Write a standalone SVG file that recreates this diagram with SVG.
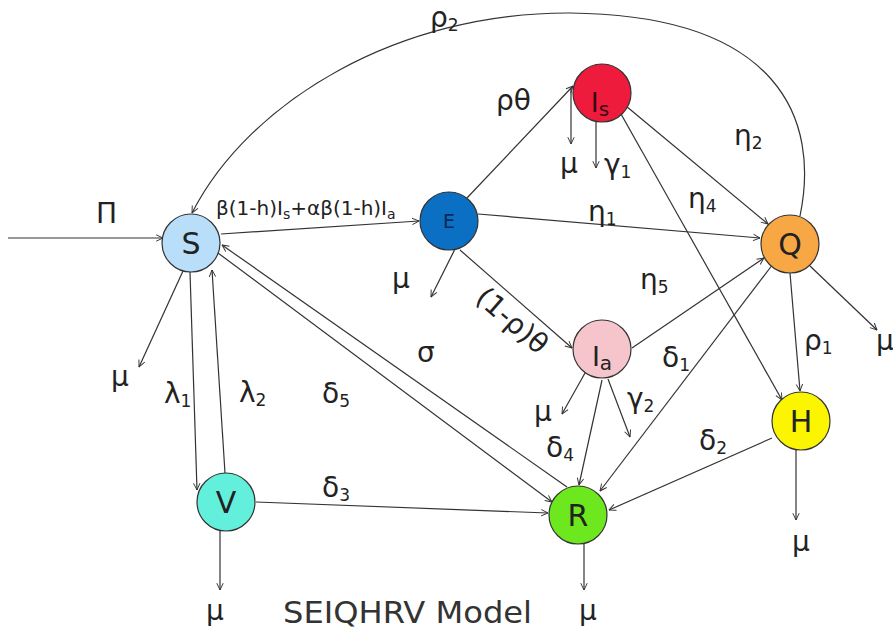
<svg xmlns="http://www.w3.org/2000/svg" width="893" height="634" viewBox="0 0 893 634">
<style>
.ln{fill:none;stroke:#333;stroke-width:1.2}
.arr{marker-end:url(#ah)}
.nd{stroke:#333;stroke-width:1.2}
.nl{font-family:"DejaVu Sans",sans-serif;font-size:30px;fill:#222;text-anchor:middle}
.lb{font-family:"DejaVu Sans",sans-serif;font-size:28px;fill:#222}
.sub{font-size:17px}
.t{font-family:"DejaVu Sans",sans-serif;font-size:30px;fill:#333}
</style>
<defs>
<marker id="ah" viewBox="0 0 10 10" refX="9.5" refY="5" markerWidth="8" markerHeight="8" markerUnits="userSpaceOnUse" orient="auto">
<path d="M1,1 L9.5,5 L1,9" fill="none" stroke="#333" stroke-width="1.2"/>
</marker>
</defs>
<rect width="893" height="634" fill="#fff"/>
<g id="connectors">
<line class="ln arr" x1="8" y1="238" x2="163" y2="238"/>
<line class="ln arr" x1="221" y1="234" x2="419" y2="221"/>
<path class="ln arr" d="M800,216 C820,120 780,15 570,13 C400,12 250,100 192,213"/>
<line class="ln arr" x1="466" y1="199" x2="573" y2="86"/>
<line class="ln arr" x1="571" y1="88" x2="571" y2="144"/>
<line class="ln arr" x1="596" y1="121" x2="596" y2="168"/>
<line class="ln arr" x1="626" y1="106" x2="768" y2="224"/>
<line class="ln arr" x1="621" y1="114" x2="782" y2="400"/>
<line class="ln arr" x1="478" y1="214" x2="760" y2="238"/>
<line class="ln arr" x1="455" y1="249" x2="431" y2="297"/>
<line class="ln arr" x1="460" y1="250" x2="572" y2="348"/>
<line class="ln arr" x1="632" y1="348" x2="764" y2="258"/>
<line class="ln arr" x1="585" y1="373" x2="562" y2="414"/>
<line class="ln arr" x1="608" y1="379" x2="630" y2="437"/>
<line class="ln arr" x1="602" y1="380" x2="579" y2="485"/>
<line class="ln arr" x1="773" y1="264" x2="600" y2="491"/>
<line class="ln arr" x1="790" y1="273" x2="800" y2="391"/>
<line class="ln arr" x1="810" y1="266" x2="877" y2="330"/>
<line class="ln arr" x1="772" y1="438" x2="609" y2="510"/>
<line class="ln arr" x1="796" y1="450" x2="796" y2="520"/>
<line class="ln arr" x1="183" y1="271" x2="139" y2="367"/>
<line class="ln arr" x1="190" y1="272" x2="197" y2="490"/>
<line class="ln arr" x1="225" y1="473" x2="212" y2="270"/>
<line class="ln arr" x1="567" y1="487" x2="222" y2="245"/>
<line class="ln arr" x1="218" y1="253" x2="552" y2="502"/>
<line class="ln arr" x1="256" y1="502" x2="548" y2="513"/>
<line class="ln arr" x1="220" y1="531" x2="220" y2="590"/>
<line class="ln arr" x1="584" y1="544" x2="584" y2="590"/>
</g>
<g id="labels">
<text class="lb" x="96" y="223">Π</text>
<text class="lb" x="216" y="215" style="font-size:20px">β(1-h)I<tspan class="sub" style="font-size:14px" dy="4">s</tspan><tspan dy="-4">+αβ(1-h)I</tspan><tspan class="sub" style="font-size:14px" dy="4">a</tspan></text>
<text class="lb" x="430" y="27">ρ<tspan class="sub" dy="4">2</tspan></text>
<text class="lb" x="496" y="110">ρθ</text>
<text class="lb" x="560" y="173">μ</text>
<text class="lb" x="604" y="174">γ<tspan class="sub" dy="4">1</tspan></text>
<text class="lb" x="734" y="145">η<tspan class="sub" dy="4">2</tspan></text>
<text class="lb" x="688" y="208">η<tspan class="sub" dy="4">4</tspan></text>
<text class="lb" x="588" y="221">η<tspan class="sub" dy="4">1</tspan></text>
<text class="lb" x="640" y="289">η<tspan class="sub" dy="4">5</tspan></text>
<text class="lb" x="392" y="288">μ</text>
<text class="lb" x="0" y="0" transform="translate(474,300) rotate(41)">(1-ρ)θ</text>
<text class="lb" x="417" y="362">σ</text>
<text class="lb" x="662" y="367">δ<tspan class="sub" dy="4">1</tspan></text>
<text class="lb" x="627" y="408">γ<tspan class="sub" dy="4">2</tspan></text>
<text class="lb" x="534" y="421">μ</text>
<text class="lb" x="546" y="457">δ<tspan class="sub" dy="4">4</tspan></text>
<text class="lb" x="699" y="450">δ<tspan class="sub" dy="4">2</tspan></text>
<text class="lb" x="804" y="350">ρ<tspan class="sub" dy="4">1</tspan></text>
<text class="lb" x="876" y="350">μ</text>
<text class="lb" x="792" y="551">μ</text>
<text class="lb" x="111" y="386">μ</text>
<text class="lb" x="164" y="403">λ<tspan class="sub" dy="4">1</tspan></text>
<text class="lb" x="239" y="402">λ<tspan class="sub" dy="4">2</tspan></text>
<text class="lb" x="322" y="403">δ<tspan class="sub" dy="4">5</tspan></text>
<text class="lb" x="322" y="497">δ<tspan class="sub" dy="4">3</tspan></text>
<text class="lb" x="206" y="620">μ</text>
<text class="lb" x="579" y="620">μ</text>
<text class="t" x="283" y="623" textLength="249" lengthAdjust="spacingAndGlyphs">SEIQHRV Model</text>
</g>
<g id="node-S"><circle class="nd" cx="191" cy="243" r="29" fill="#b9defa"/><text class="nl" x="191" y="254" fill="#1a2836">S</text></g>
<g id="node-E"><circle class="nd" cx="449" cy="221" r="29" fill="#0b6fc4"/><text class="nl" x="449" y="228" style="font-size:19px;fill:#0b2a52">E</text></g>
<g id="node-Is"><circle class="nd" cx="602" cy="93" r="29" fill="#ee1b3d"/><text class="nl" x="600" y="112" style="font-size:27px;fill:#3a0a12">I<tspan style="font-size:20px" dy="4">s</tspan></text></g>
<g id="node-Q"><circle class="nd" cx="790" cy="244" r="29" fill="#f7a845"/><text class="nl" x="790" y="255">Q</text></g>
<g id="node-Ia"><circle class="nd" cx="602" cy="349" r="29" fill="#f6c5cc"/><text class="nl" x="602" y="366" style="font-size:27px">I<tspan style="font-size:20px" dy="4">a</tspan></text></g>
<g id="node-H"><circle class="nd" cx="801" cy="421" r="29" fill="#fbf500"/><text class="nl" x="801" y="432">H</text></g>
<g id="node-R"><circle class="nd" cx="578" cy="515" r="29" fill="#6ee81e"/><text class="nl" x="578" y="526">R</text></g>
<g id="node-V"><circle class="nd" cx="226" cy="502" r="29" fill="#62f0dc"/><text class="nl" x="226" y="513">V</text></g>
</svg>
